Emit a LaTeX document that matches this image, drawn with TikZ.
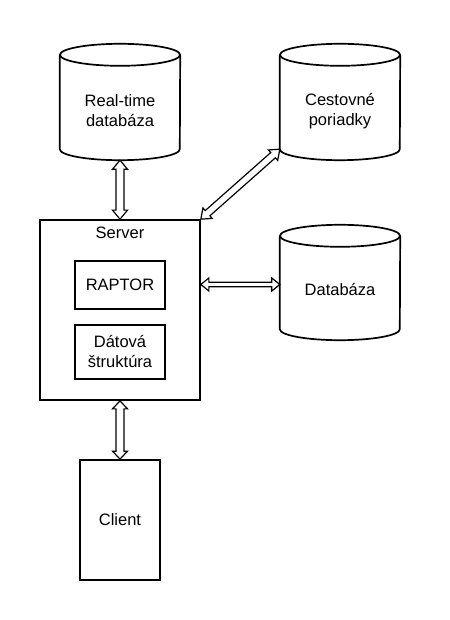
\documentclass[tikz,border=0pt]{standalone}
\usepackage{fontspec}
\setmainfont{Liberation Sans}
\usetikzlibrary{calc}
\tikzset{
  shapeline/.style={line width=1.7pt, draw=black, fill=white},
  boxnode/.style={shapeline, rectangle, inner sep=0pt},
  cylbox/.style={rectangle, inner sep=0pt, minimum width=120pt},
  txt/.style={align=center, inner sep=0pt, font=\fontsize{16.5}{20}\selectfont},
  arrowline/.style={line width=1.2pt, draw=black, fill=white, line join=miter},
}
\newcommand\cyl[1]{%
  \draw[shapeline] ($(#1.north west)+(0,11)$) -- ($(#1.south west)+(0,-11)$)
     arc[start angle=180, end angle=0, x radius=60, y radius=11]
     -- ($(#1.north east)+(0,11)$);
  \draw[shapeline] ($(#1.north)+(0,11)$) ellipse [x radius=60, y radius=11];
}
\newcommand\flexarr[5]{%
  \coordinate (faP) at (#1);
  \coordinate (faQ) at (#2);
  \coordinate (faA) at ($(faP)!#5!(faQ)$);
  \coordinate (faB) at ($(faQ)!#5!(faP)$);
  \draw[arrowline] (faP) -- ($(faA)!#4!90:(faQ)$) -- ($(faA)!#3!90:(faQ)$)
    -- ($(faB)!#3!-90:(faP)$) -- ($(faB)!#4!-90:(faP)$) -- (faQ)
    -- ($(faB)!#4!90:(faP)$) -- ($(faB)!#3!90:(faP)$)
    -- ($(faA)!#3!-90:(faQ)$) -- ($(faA)!#4!-90:(faQ)$) -- cycle;
}
\begin{document}
\begin{tikzpicture}[x=1pt,y=-1pt]
\useasboundingbox[fill=white] (0,0) rectangle (449,620);
% cylinders
\node[cylbox, minimum height=116pt] (rtc) at (120,102) {};
\cyl{rtc}
\node[txt] (rt) at (120,111) {Real-time\\databáza};
\node[cylbox, minimum height=116pt] (cpc) at (340,102) {};
\cyl{cpc}
\node[txt] (cp) at (340,111) {Cestovné\\poriadky};
\node[cylbox, minimum height=115pt] (dbc) at (340,282.5) {};
\cyl{dbc}
\node[txt] (db) at (340,290) {Databáza};
% server
\node[boxnode, minimum width=160pt, minimum height=180pt] (srv) at (120,310) {};
\node[txt] (srvl) at (120,233) {Server};
\node[boxnode, minimum width=90pt, minimum height=48pt, txt] (rap) at (120,285) {RAPTOR};
\node[boxnode, minimum width=90pt, minimum height=54pt, txt] (dat) at (120,352) {Dátová\\štruktúra};
% client
\node[boxnode, minimum width=80pt, minimum height=120pt, txt] (cli) at (120,520) {Client};
% arrows
\flexarr{rtc.south}{srv.north}{4pt}{7.5pt}{9pt}
\flexarr{srv.north east}{$(cpc.south west)+(0,-11)$}{3.5pt}{7pt}{9pt}
\flexarr{srv.east |- 0,284.5}{dbc.west |- 0,284.5}{2.3pt}{6.5pt}{8pt}
\flexarr{srv.south}{cli.north}{4pt}{7.5pt}{8pt}
\end{tikzpicture}
\end{document}
